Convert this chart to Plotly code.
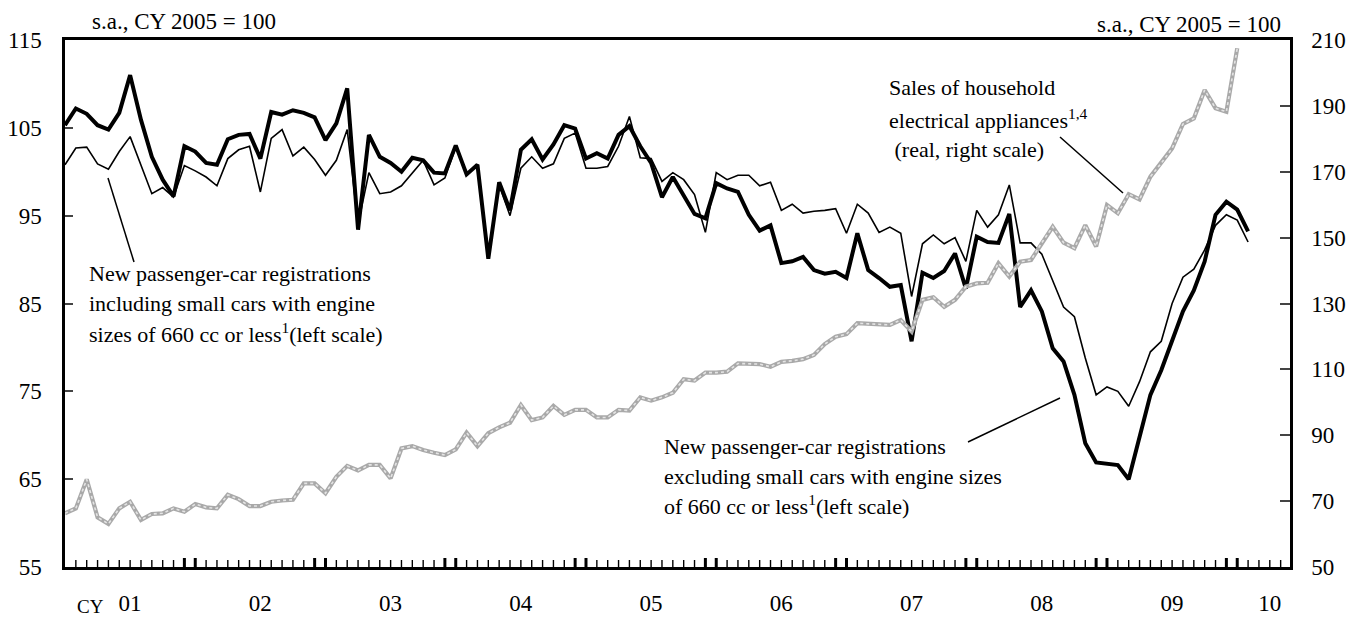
import plotly.graph_objects as go

# monthly data, Jan 2001 onwards (x = months since Jan 2001)
excl_small = [105.3, 107.2, 106.6, 105.3, 104.8, 106.7, 111.0, 105.9, 101.7, 99.1, 97.2, 102.9,
              102.3, 101.0, 100.8, 103.7, 104.2, 104.3, 101.5, 106.8, 106.5, 107.0, 106.7, 106.2,
              103.6, 105.5, 109.5, 93.4, 104.2, 101.7, 101.0, 100.0, 101.6, 101.3, 99.9, 99.8,
              103.0, 99.7, 100.8, 90.1, 98.8, 95.6, 102.5, 103.7, 101.4, 103.1, 105.3, 104.9,
              101.5, 102.1, 101.5, 104.2, 105.2, 102.9, 101.0, 97.1, 99.4, 97.2, 95.2, 94.7,
              98.7, 98.1, 97.7, 95.1, 93.3, 93.9, 89.6, 89.8, 90.3, 88.8, 88.4, 88.6,
              87.9, 93.0, 88.8, 87.9, 86.9, 87.1, 80.7, 88.5, 87.9, 88.7, 90.7, 86.7,
              92.6, 92.0, 91.9, 95.2, 84.6, 86.5, 84.1, 79.9, 78.4, 74.6, 69.1, 66.9,
              66.7, 66.6, 65.0, 70.0, 74.6, 77.4, 80.8, 84.1, 86.5, 89.8, 95.1, 96.6,
              95.7, 93.2]

incl_small = [100.8, 102.7, 102.8, 100.9, 100.3, 102.3, 104.0, 100.8, 97.5, 98.2, 97.1, 100.7,
              100.1, 99.4, 98.4, 101.5, 102.5, 102.9, 97.7, 103.8, 104.8, 101.8, 102.8, 101.4,
              99.6, 101.3, 104.8, 94.0, 99.9, 97.5, 97.7, 98.4, 99.8, 101.3, 98.5, 99.3,
              102.8, 99.7, 100.7, 90.7, 98.5, 95.0, 100.4, 101.7, 100.4, 100.9, 103.8, 104.4,
              100.4, 100.4, 100.6, 102.9, 106.3, 101.6, 101.5, 98.9, 99.9, 99.1, 97.4, 93.1,
              99.9, 99.1, 99.6, 99.6, 98.4, 98.8, 95.6, 96.3, 95.3, 95.5, 95.6, 95.8,
              93.0, 96.3, 95.3, 93.1, 93.7, 93.0, 85.8, 91.8, 92.8, 91.8, 92.5, 89.8,
              95.6, 93.7, 95.1, 98.5, 91.9, 91.9, 90.6, 87.5, 84.6, 83.5, 78.8, 74.6,
              75.5, 75.0, 73.3, 76.1, 79.5, 80.7, 85.0, 88.0, 88.9, 91.1, 93.9, 95.1,
              94.5, 92.0]

appliances = [66.3, 67.8, 76.6, 65.1, 63.1, 67.8, 69.8, 64.3, 66.1, 66.3, 67.8, 66.8,
              69.1, 68.1, 67.8, 71.9, 70.6, 68.5, 68.5, 69.8, 70.2, 70.4, 75.4, 75.4,
              72.4, 77.4, 80.7, 79.3, 81.0, 81.0, 76.9, 86.0, 86.7, 85.5, 84.7, 84.0,
              85.7, 90.8, 86.7, 90.6, 92.4, 93.8, 99.2, 94.6, 95.4, 98.9, 96.2, 97.7,
              97.7, 95.4, 95.4, 97.7, 97.5, 101.5, 100.5, 101.5, 102.9, 107.0, 106.6, 109.0,
              109.0, 109.3, 111.8, 111.6, 111.6, 110.8, 112.3, 112.6, 113.1, 114.4, 117.7, 119.9,
              120.7, 124.0, 123.8, 123.8, 123.5, 125.0, 121.5, 131.1, 131.9, 129.0, 131.1, 135.1,
              136.1, 136.3, 142.2, 138.2, 142.7, 143.2, 148.5, 153.3, 148.5, 146.8, 153.8, 147.3,
              159.9, 157.4, 163.2, 161.6, 168.5, 172.6, 177.1, 184.5, 186.2, 194.8, 189.3, 188.2,
              207.5]

year_labels = ["01", "02", "03", "04", "05", "06", "07", "08", "09", "10"]
year_label_pos = [6, 18, 30, 42, 54, 66, 78, 90, 102, 111]
left_ticks = [55, 65, 75, 85, 95, 105, 115]
right_ticks = [50, 70, 90, 110, 130, 150, 170, 190, 210]

FONT = "Liberation Serif, Times New Roman, serif"
W, H = 1362, 619
L, R, T, B = 65, 72, 40, 52
PW, PH = W - L - R, H - T - B


def paper(x, y):
    # pixel position -> paper coordinates
    return (x - L) / PW, (H - B - y) / PH


fig = go.Figure()

fig.add_trace(go.Scatter(x=list(range(len(incl_small))), y=incl_small, mode="lines",
                         line=dict(color="black", width=1.6), showlegend=False))
fig.add_trace(go.Scatter(x=list(range(len(excl_small))), y=excl_small, mode="lines",
                         line=dict(color="black", width=4), showlegend=False))
# hatched grey line: grey base with a light dotted core
fig.add_trace(go.Scatter(x=list(range(len(appliances))), y=appliances, mode="lines", yaxis="y2",
                         line=dict(color="#a9a9a9", width=4.2), showlegend=False))
fig.add_trace(go.Scatter(x=list(range(len(appliances))), y=appliances, mode="lines", yaxis="y2",
                         line=dict(color="#e4e4e4", width=1.6, dash="dot"), showlegend=False))

# monthly tick marks, heavier pair at each year end
shapes = []
for m in range(1, 113):
    heavy = m % 12 in (11, 0)
    shapes.append(dict(type="line", xref="x", yref="paper", x0=m, x1=m, y0=0,
                       y1=(9 if heavy else 7) / PH,
                       line=dict(color="black", width=3 if heavy else 1.4)))

leaders = [((108, 178), (134, 262)), ((1060, 137), (1123, 193)), ((968, 442), (1060, 398))]
for (xa, ya), (xb, yb) in leaders:
    p0, p1 = paper(xa, ya), paper(xb, yb)
    shapes.append(dict(type="line", xref="paper", yref="paper", x0=p0[0], y0=p0[1],
                       x1=p1[0], y1=p1[1], line=dict(color="black", width=1.5)))

notes = [
    (87, 273, "New passenger-car registrations"),
    (87, 303, "including small cars with engine"),
    (87, 333, "sizes of 660 cc or less<sup>1</sup>(left scale)"),
    (887, 87, "Sales of household"),
    (887, 119, "electrical appliances<sup>1,4</sup>"),
    (887, 149, " (real, right scale)"),
    (662, 446, "New passenger-car registrations"),
    (662, 476, "excluding small cars with engine sizes"),
    (662, 505, "of 660 cc or less<sup>1</sup>(left scale)"),
]
annotations = []
for x, y, txt in notes:
    px, py = paper(x, y)
    annotations.append(dict(x=px, y=py, xref="paper", yref="paper", text=txt, showarrow=False,
                            xanchor="left", yanchor="middle", font=dict(size=22)))

ux, uy = paper(90, 22)
annotations.append(dict(x=ux, y=uy, xref="paper", yref="paper", text="s.a., CY 2005 = 100",
                        showarrow=False, xanchor="left", yanchor="middle", font=dict(size=23)))
ux, uy = paper(1283, 24)
annotations.append(dict(x=ux, y=uy, xref="paper", yref="paper", text="s.a., CY 2005 = 100",
                        showarrow=False, xanchor="right", yanchor="middle", font=dict(size=23)))
ux, uy = paper(90, 606)
annotations.append(dict(x=ux, y=uy, xref="paper", yref="paper", text="CY",
                        showarrow=False, xanchor="center", yanchor="middle", font=dict(size=19)))

fig.update_layout(
    width=W, height=H,
    margin=dict(l=L, r=R, t=T, b=B, autoexpand=False),
    paper_bgcolor="white", plot_bgcolor="white",
    font=dict(family=FONT, color="black", size=23),
    shapes=shapes, annotations=annotations,
    xaxis=dict(range=[0, PW / 10.854], tickvals=year_label_pos, ticktext=year_labels,
               ticks="", showgrid=False, zeroline=False, showline=True, linewidth=2.5,
               linecolor="black", mirror=True, ticklabelstandoff=14, automargin=False,
               tickfont=dict(size=23)),
    yaxis=dict(range=[55, 115], tickvals=left_ticks, ticks="inside", ticklen=8, tickwidth=1.5,
               showgrid=False, zeroline=False, showline=True, linewidth=2.5, linecolor="black",
               ticklabelstandoff=16, automargin=False, tickfont=dict(size=23)),
    yaxis2=dict(range=[50, 210], tickvals=right_ticks, ticks="inside", ticklen=10, tickwidth=1.5,
                overlaying="y", side="right", showgrid=False, zeroline=False, showline=True,
                linewidth=2.5, linecolor="black", ticklabelstandoff=14, automargin=False,
                tickfont=dict(size=23)),
)

# drop the browser's default page margin so the figure sits at the window origin
fig.write_html("out.html", config={"displayModeBar": False},
               post_script="document.body.style.margin='0px';")
